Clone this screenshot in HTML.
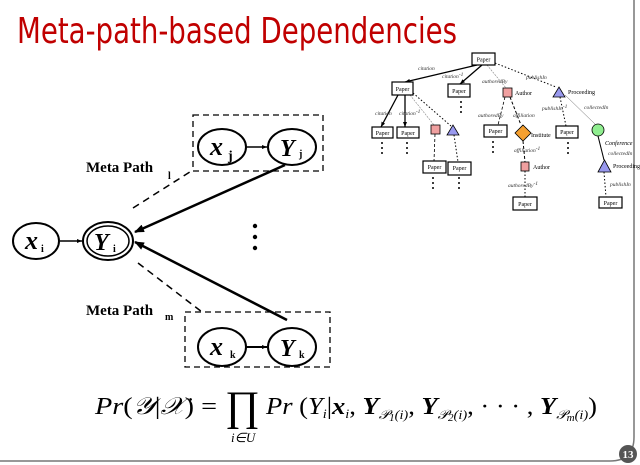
<!DOCTYPE html>
<html><head><meta charset="utf-8"><style>
html,body{margin:0;padding:0;background:#fff;}
svg{display:block;}
</style></head><body>
<svg width="640" height="465" viewBox="0 0 640 465" xmlns="http://www.w3.org/2000/svg">
<defs>
<marker id="ah" markerWidth="10" markerHeight="8" refX="9" refY="4" orient="auto" markerUnits="userSpaceOnUse"><path d="M0,0 L10,4 L0,8 z" fill="#000"/></marker>
<marker id="as" markerWidth="5" markerHeight="4" refX="5" refY="2" orient="auto" markerUnits="userSpaceOnUse"><path d="M0,0 L5,2 L0,4 z" fill="#000"/></marker>
</defs>
<path d="M634,0 L634,437 Q634,461 610,461 L0,461" fill="none" stroke="#777" stroke-width="1.5"/>
<circle cx="628" cy="454" r="9" fill="#555"/>
<text x="628" y="458" font-family="Liberation Serif,serif" font-size="11" font-weight="bold" fill="#fff" text-anchor="middle">13</text>
<text x="17" y="43" font-family="'Comic Sans MS','DejaVu Sans',sans-serif" font-size="36" fill="#c00000" textLength="440" lengthAdjust="spacingAndGlyphs">Meta-path-based Dependencies</text>

<g fill="none" stroke="#000">
<rect x="193" y="115" width="130" height="56" stroke-dasharray="6,4" stroke-width="1.3"/>
<rect x="185" y="312" width="145" height="55" stroke-dasharray="6,4" stroke-width="1.3"/>
<ellipse cx="36" cy="241" rx="23" ry="18" stroke-width="2"/>
<ellipse cx="108" cy="241" rx="25" ry="19" stroke-width="2"/>
<ellipse cx="108" cy="241" rx="21" ry="15" stroke-width="1.5"/>
<ellipse cx="222" cy="147" rx="24" ry="18" stroke-width="2"/>
<ellipse cx="292" cy="147" rx="24" ry="18" stroke-width="2"/>
<ellipse cx="222" cy="347" rx="24" ry="19" stroke-width="2"/>
<ellipse cx="292" cy="347" rx="24" ry="19" stroke-width="2"/>
<line x1="60" y1="241" x2="82" y2="241" stroke-width="1.5" marker-end="url(#as)"/>
<line x1="246" y1="147" x2="267" y2="147" stroke-width="1.5" marker-end="url(#as)"/>
<line x1="246" y1="347" x2="267" y2="347" stroke-width="2" marker-end="url(#as)"/>
<line x1="285" y1="165" x2="135" y2="232" stroke-width="2.5" marker-end="url(#ah)"/>
<line x1="287" y1="320" x2="135" y2="242" stroke-width="2.5" marker-end="url(#ah)"/>
<line x1="133" y1="208" x2="193" y2="170" stroke-width="1.5" stroke-dasharray="7,5"/>
<line x1="138" y1="263" x2="202" y2="312" stroke-width="1.5" stroke-dasharray="7,5"/>
</g>
<circle cx="255" cy="226" r="2.2"/><circle cx="255" cy="237" r="2.2"/><circle cx="255" cy="248" r="2.2"/>
<g font-family="Liberation Serif,serif" font-weight="bold" font-style="italic">
<text x="25" y="249" font-size="26">x</text><text x="41" y="252" font-size="10" font-style="normal">i</text>
<text x="94" y="250" font-size="24">Y</text><text x="113" y="252" font-size="10" font-style="normal">i</text>
<text x="210" y="155" font-size="26">x</text><text x="228" y="160" font-size="14" font-style="normal">j</text>
<text x="280" y="156" font-size="24">Y</text><text x="299" y="157" font-size="10" font-style="normal">j</text>
<text x="210" y="355" font-size="26">x</text><text x="230" y="358" font-size="10" font-style="normal">k</text>
<text x="280" y="356" font-size="24">Y</text><text x="299" y="358" font-size="10" font-style="normal">k</text>
</g>
<g font-family="Liberation Serif,serif" font-weight="bold">
<text x="86" y="172" font-size="15">Meta Path</text><text x="168" y="179" font-size="10">l</text>
<text x="86" y="315" font-size="15">Meta Path</text><text x="165" y="320" font-size="10">m</text>
</g>

<g font-family="Liberation Serif,serif" font-size="24">
<text x="95" y="414" textLength="122" lengthAdjust="spacingAndGlyphs"><tspan font-style="italic">Pr</tspan>(<tspan font-style="italic">𝒴</tspan>|<tspan font-style="italic">𝒳</tspan>) =</text>
<text x="225" y="420" font-size="42">∏</text>
<text x="231" y="442" font-size="13" font-style="italic">i∈U</text>
<text x="266" y="414" textLength="331" lengthAdjust="spacingAndGlyphs"><tspan font-style="italic">Pr</tspan> (<tspan font-style="italic">Y<tspan font-size="13" dy="4">i</tspan></tspan><tspan dy="-4">|</tspan><tspan font-style="italic" font-weight="bold">x</tspan><tspan font-size="13" font-style="italic" dy="4">i</tspan><tspan dy="-4">, </tspan><tspan font-style="italic" font-weight="bold">Y</tspan><tspan font-size="13" font-style="italic" dy="5">𝒫<tspan font-size="10" dy="2">1</tspan><tspan dy="-2">(i)</tspan></tspan><tspan dy="-5">, </tspan><tspan font-style="italic" font-weight="bold">Y</tspan><tspan font-size="13" font-style="italic" dy="5">𝒫<tspan font-size="10" dy="2">2</tspan><tspan dy="-2">(i)</tspan></tspan><tspan dy="-5">, · · · , </tspan><tspan font-style="italic" font-weight="bold">Y</tspan><tspan font-size="13" font-style="italic" dy="5">𝒫<tspan font-size="10" dy="2">m</tspan><tspan dy="-2">(i)</tspan></tspan><tspan dy="-5">)</tspan></text>
</g>

<g stroke="#000" fill="none">
<line x1="477" y1="65" x2="405" y2="82" stroke-width="1.3" marker-end="url(#as)"/>
<line x1="482" y1="65" x2="460" y2="84" stroke-width="1.3" marker-end="url(#as)"/>
<line x1="487" y1="65" x2="506" y2="88" stroke-width="0.6" stroke-dasharray="2,1" stroke="#888"/>
<line x1="495" y1="63" x2="556" y2="87" stroke-width="1" stroke-dasharray="1.5,2"/>
<line x1="398" y1="95" x2="381" y2="127" stroke-width="1.3" marker-end="url(#as)"/>
<line x1="405" y1="95" x2="405" y2="127" stroke-width="1.3" marker-end="url(#as)"/>
<line x1="410" y1="95" x2="434" y2="125" stroke-width="0.6" stroke="#888" stroke-dasharray="2,1"/>
<line x1="413" y1="93" x2="451" y2="126" stroke-width="1" stroke-dasharray="1.5,2"/>
<line x1="505" y1="97" x2="498" y2="125" stroke-width="0.8" stroke-dasharray="3,2"/>
<line x1="510" y1="97" x2="521" y2="125" stroke-width="1" stroke-dasharray="3,2"/>
<line x1="560" y1="97" x2="566" y2="126" stroke-width="1" stroke-dasharray="1.5,2"/>
<line x1="565" y1="95" x2="595" y2="124" stroke-width="0.5" stroke="#666"/>
<line x1="435" y1="134" x2="434" y2="161" stroke-width="0.8" stroke-dasharray="3,2"/>
<line x1="454" y1="135" x2="458" y2="162" stroke-width="1" stroke-dasharray="1.5,2"/>
<line x1="523" y1="141" x2="525" y2="162" stroke-width="1" stroke-dasharray="3,2"/>
<line x1="525" y1="171" x2="525" y2="197" stroke-width="1" stroke-dasharray="1.5,2"/>
<line x1="598" y1="136" x2="604" y2="160" stroke-width="1"/>
<line x1="604" y1="172" x2="606" y2="197" stroke-width="1" stroke-dasharray="1.5,2"/>
</g>
<g stroke="#000" stroke-width="1.2" fill="#fff">
<rect x="472" y="53" width="23" height="12"/>
<rect x="392" y="82" width="21" height="13"/>
<rect x="448" y="84" width="22" height="13"/>
<rect x="372" y="127" width="21" height="11"/>
<rect x="397" y="127" width="22" height="11"/>
<rect x="484" y="125" width="23" height="12"/>
<rect x="556" y="126" width="22" height="12"/>
<rect x="423" y="161" width="23" height="12"/>
<rect x="448" y="162" width="23" height="13"/>
<rect x="513" y="197" width="24" height="13"/>
<rect x="599" y="197" width="23" height="11"/>
</g>
<g stroke="#000" stroke-width="0.8">
<rect x="503" y="88" width="9" height="9" fill="#f0a0a0"/>
<rect x="431" y="125" width="9" height="9" fill="#f0a0a0"/>
<rect x="521" y="162" width="8" height="9" fill="#f0a0a0"/>
<path d="M553,97 L559,87 L565,97 z" fill="#9999ee"/>
<path d="M447,135 L453,125 L459,135 z" fill="#9999ee"/>
<path d="M598,172 L604.5,160 L611,172 z" fill="#9999ee"/>
<path d="M523,125 L531,133 L523,141 L515,133 z" fill="#f5a030"/>
<circle cx="598" cy="130" r="6" fill="#90ee90"/>
</g>
<g font-family="Liberation Serif,serif" font-size="6" fill="#000">
<text x="483.5" y="61.5" text-anchor="middle">Paper</text>
<text x="402.5" y="91" text-anchor="middle">Paper</text>
<text x="459" y="93" text-anchor="middle">Paper</text>
<text x="382.5" y="135" text-anchor="middle">Paper</text>
<text x="408" y="135" text-anchor="middle">Paper</text>
<text x="495.5" y="133" text-anchor="middle">Paper</text>
<text x="567" y="134" text-anchor="middle">Paper</text>
<text x="434.5" y="169" text-anchor="middle">Paper</text>
<text x="459.5" y="170" text-anchor="middle">Paper</text>
<text x="525" y="206" text-anchor="middle">Paper</text>
<text x="610.5" y="205" text-anchor="middle">Paper</text>
<text x="515" y="95">Author</text>
<text x="568" y="94">Proceeding</text>
<text x="531" y="137">Institute</text>
<text x="533" y="169">Author</text>
<text x="613" y="168">Proceeding</text>
<text x="605" y="145" font-style="italic">Conference</text>
</g>
<g font-family="Liberation Serif,serif" font-size="5.5" font-style="italic" fill="#333">
<text x="418" y="70">citation</text>
<text x="442" y="78">citation<tspan dy="-2">-1</tspan></text>
<text x="482" y="83">authoredBy</text>
<text x="526" y="79">publishIn</text>
<text x="375" y="115">citation</text>
<text x="399" y="115">citation<tspan dy="-2">-1</tspan></text>
<text x="478" y="117">authoredBy</text>
<text x="513" y="117">affiliation</text>
<text x="542" y="110">publishIn<tspan dy="-2">-1</tspan></text>
<text x="584" y="109">collectedIn</text>
<text x="514" y="152">affiliation<tspan dy="-2">-1</tspan></text>
<text x="508" y="187">authoredBy<tspan dy="-2">-1</tspan></text>
<text x="608" y="155">collectedIn</text>
<text x="610" y="186">publishIn</text>
</g>
<g fill="#000">
<circle cx="382" cy="143" r="1"/><circle cx="382" cy="148" r="1"/><circle cx="382" cy="153" r="1"/>
<circle cx="407" cy="143" r="1"/><circle cx="407" cy="148" r="1"/><circle cx="407" cy="153" r="1"/>
<circle cx="461" cy="102" r="1"/><circle cx="461" cy="107" r="1"/><circle cx="461" cy="112" r="1"/>
<circle cx="493" cy="142" r="1"/><circle cx="493" cy="147" r="1"/><circle cx="493" cy="152" r="1"/>
<circle cx="568" cy="143" r="1"/><circle cx="568" cy="148" r="1"/><circle cx="568" cy="153" r="1"/>
<circle cx="433" cy="178" r="1"/><circle cx="433" cy="183" r="1"/><circle cx="433" cy="188" r="1"/>
<circle cx="459" cy="178" r="1"/><circle cx="459" cy="183" r="1"/><circle cx="459" cy="188" r="1"/>
</g>
</svg>
</body></html>
